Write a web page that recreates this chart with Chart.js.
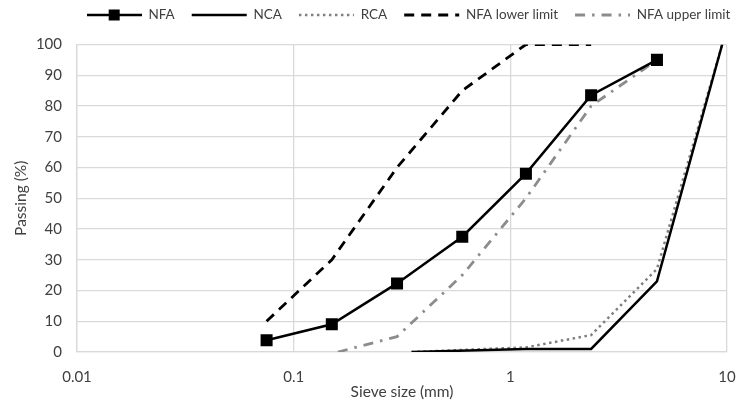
<!DOCTYPE html>
<html>
<head>
<meta charset="utf-8">
<script src="https://cdn.jsdelivr.net/npm/chart.js@4.4.1/dist/chart.umd.min.js"></script>
<style>
  body { margin: 0; background: #ffffff; }
  #wrap { width: 737px; height: 407px; }
</style>
</head>
<body>
<div id="wrap"><canvas id="GradingChart" width="737" height="407"></canvas></div>
<script>
// sieve size (mm) / percent passing
const nfaSize = [0.075, 0.15, 0.3, 0.6, 1.18, 2.36, 4.75];
const nfaPassing = [3.8, 9, 22.3, 37.5, 58, 83.5, 95];

const ncaSize = [0.35, 1.18, 2.36, 4.75, 9.5];
const ncaPassing = [0, 1, 1, 23, 100];

const rcaSize = [0.35, 1.18, 2.36, 4.75, 9.5];
const rcaPassing = [0, 1.5, 5.5, 27, 100];

const lowerSize = [0.075, 0.15, 0.3, 0.6, 1.18, 2.36];
const lowerPassing = [10, 30, 60, 85, 100, 100];

const upperSize = [0.16, 0.3, 0.6, 1.18, 2.36, 4.75];
const upperPassing = [0, 5, 25, 50, 80, 95];

const xTickValues = [0.01, 0.1, 1, 10];
const seriesNames = ["NFA", "NCA", "RCA", "NFA lower limit", "NFA upper limit"];

const FONT = "Lato";
const TEXT_COLOR = "#404040";
const GRID_COLOR = "#d9d9d9";

// legend shift (Excel legend is not centred on the canvas)
const LEGEND_DX = 39;
const LEGEND_DY = -12.75;

function toPoints(sizes, passing)
{
    return sizes.map(function(s, i) { return { x: s, y: passing[i] }; });
}

// line with a square on it, for the NFA legend entry
function nfaLegendIcon()
{
    let c = document.createElement("canvas");
    c.width = 55;
    c.height = 14;
    let g = c.getContext("2d");
    g.strokeStyle = "#000";
    g.lineWidth = 2.5;
    g.beginPath();
    g.moveTo(0, 7);
    g.lineTo(55, 7);
    g.stroke();
    g.fillStyle = "#000";
    g.fillRect(22, 1.5, 11, 11);
    return c;
}

const legendShift = {
    id: "legendShift",
    afterLayout: function(chart) {
        let lg = chart.legend;
        if (!lg) return;
        lg.left += LEGEND_DX; lg.right += LEGEND_DX;
        lg.top += LEGEND_DY; lg.bottom += LEGEND_DY;
    }
};

let ctx = document.getElementById("GradingChart").getContext("2d");
let chart = new Chart(ctx, {
    type: "line",
    data: {
        datasets: [
            {
                label: seriesNames[0],
                data: toPoints(nfaSize, nfaPassing),
                borderColor: "#000000",
                backgroundColor: "#000000",
                borderWidth: 2.5,
                pointStyle: "rect",
                pointRadius: 8.5,
                pointHoverRadius: 8.5,
                pointBackgroundColor: "#000000",
                pointBorderWidth: 0
            },
            {
                label: seriesNames[1],
                data: toPoints(ncaSize, ncaPassing),
                borderColor: "#000000",
                borderWidth: 2.5,
                pointRadius: 0
            },
            {
                label: seriesNames[2],
                data: toPoints(rcaSize, rcaPassing),
                borderColor: "#7f7f7f",
                borderWidth: 2.5,
                borderDash: [2.5, 3.5],
                pointRadius: 0
            },
            {
                label: seriesNames[3],
                data: toPoints(lowerSize, lowerPassing),
                borderColor: "#000000",
                borderWidth: 2.8,
                borderDash: [10, 7],
                pointRadius: 0
            },
            {
                label: seriesNames[4],
                data: toPoints(upperSize, upperPassing),
                borderColor: "#8c8c8c",
                borderWidth: 2.8,
                borderDash: [10, 7, 2.5, 7],
                pointRadius: 0
            }
        ]
    },
    options: {
        responsive: false,
        animation: false,
        layout: { autoPadding: false, padding: { top: 4, left: 12, right: 10, bottom: 6 } },
        elements: { line: { tension: 0 } },
        plugins: {
            tooltip: { enabled: false },
            legend: {
                position: "top",
                labels: {
                    usePointStyle: true,
                    pointStyleWidth: 55,
                    boxHeight: 10,
                    padding: 17,
                    color: TEXT_COLOR,
                    font: { family: FONT, size: 13.5 },
                    generateLabels: function(chart) {
                        let items = Chart.defaults.plugins.legend.labels.generateLabels(chart);
                        items.forEach(function(item, i) {
                            let ds = chart.data.datasets[i];
                            item.pointStyle = (i == 0) ? nfaLegendIcon() : "line";
                            item.strokeStyle = ds.borderColor;
                            item.lineWidth = ds.borderWidth;
                            item.lineDash = ds.borderDash || [];
                        });
                        return items;
                    }
                }
            }
        },
        scales: {
            x: {
                type: "logarithmic",
                min: 0.01,
                max: 10,
                afterBuildTicks: function(scale) {
                    scale.ticks = xTickValues.map(function(v) { return { value: v }; });
                },
                afterFit: function(scale) {
                    scale.height = 49;
                    scale.paddingLeft = 0;
                    scale.paddingRight = 0;
                },
                ticks: {
                    autoSkip: false,
                    maxRotation: 0,
                    padding: 16,
                    color: TEXT_COLOR,
                    font: { family: FONT, size: 15 },
                    callback: function(v) { return String(v); }
                },
                grid: { color: GRID_COLOR, lineWidth: 1.3, drawTicks: false },
                border: { color: GRID_COLOR, width: 1.3 },
                title: {
                    display: true,
                    text: "Sieve size (mm)",
                    color: TEXT_COLOR,
                    font: { family: FONT, size: 15.5 },
                    padding: { top: 0, bottom: 0 }
                }
            },
            y: {
                min: 0,
                max: 100,
                afterFit: function(scale) { scale.width = 65; },
                ticks: {
                    stepSize: 10,
                    padding: 15,
                    color: TEXT_COLOR,
                    font: { family: FONT, size: 15 }
                },
                grid: { color: GRID_COLOR, lineWidth: 1.3, drawTicks: false },
                border: { color: GRID_COLOR, width: 1.3 },
                title: {
                    display: true,
                    text: "Passing (%)",
                    color: TEXT_COLOR,
                    font: { family: FONT, size: 15.5 },
                    padding: { top: 0, bottom: 0 }
                }
            }
        }
    },
    plugins: [legendShift]
});
</script>
</body>
</html>
